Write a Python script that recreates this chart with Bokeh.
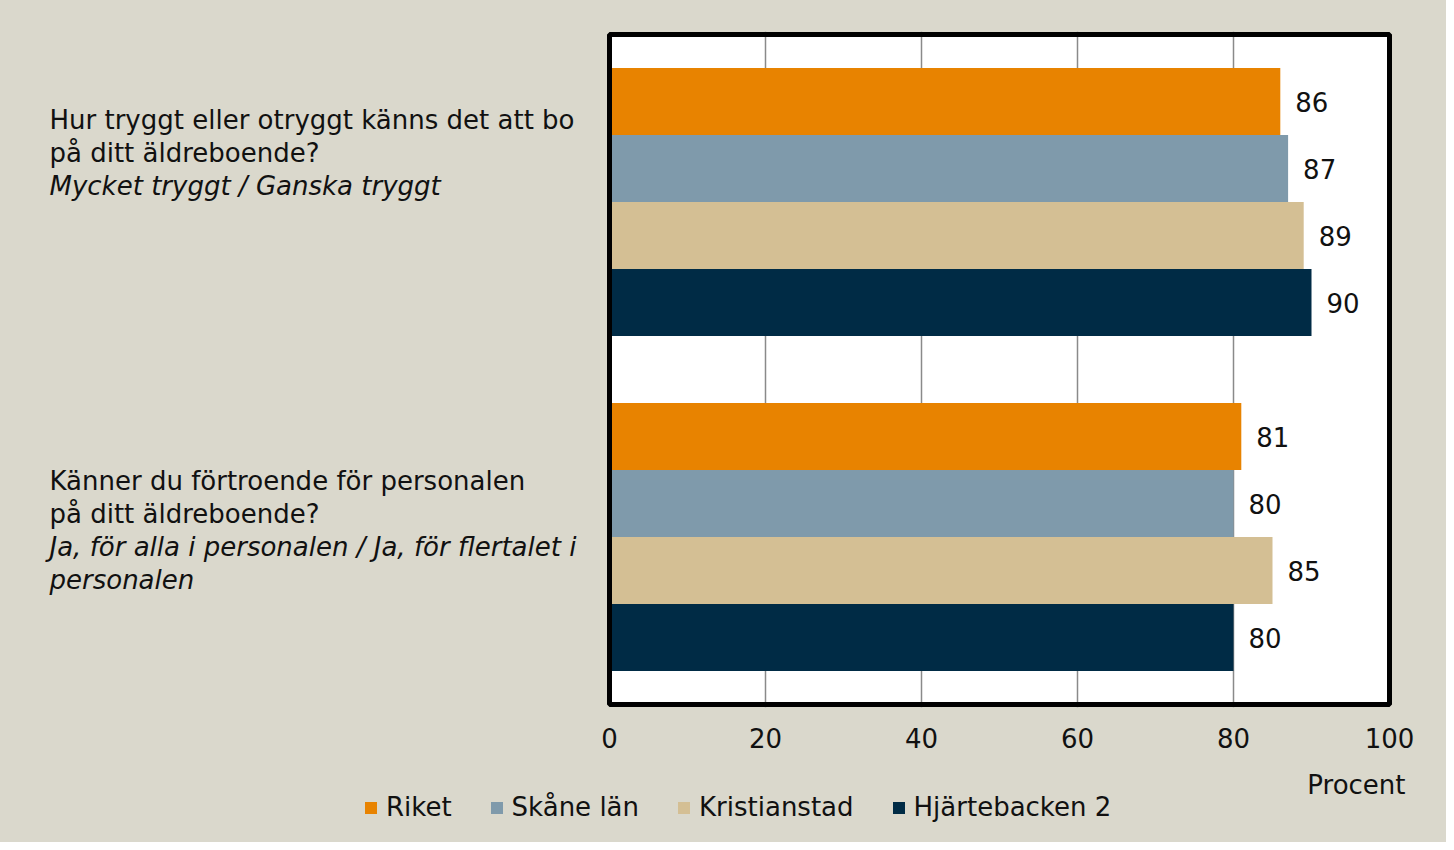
from bokeh.plotting import figure
from bokeh.models import Range1d, FixedTicker, Legend, LegendItem, ColumnDataSource
from bokeh.layouts import column
from bokeh.core.properties import value
from bokeh.embed import file_html
from bokeh.resources import INLINE

# ---- data ----
series = ["Riket", "Skåne län", "Kristianstad", "Hjärtebacken 2"]
riket = [86, 81]
skane = [87, 80]
kristianstad = [89, 85]
hjartebacken = [90, 80]
colors = ["#e88300", "#7f9aab", "#d4bf94", "#002b45"]

q1_lines = ["Hur tryggt eller otryggt känns det att bo", "på ditt äldreboende?"]
q1_italic = ["Mycket tryggt / Ganska tryggt"]
q2_lines = ["Känner du förtroende för personalen", "på ditt äldreboende?"]
q2_italic = ["Ja, för alla i personalen / Ja, för flertalet i", "personalen"]
x_ticks = [0, 20, 40, 60, 80, 100]
x_label = "Procent"

FONT = "DejaVu Sans"
FS = "26px"
BG = "#dad8cc"
TXT = "#111111"

W, H = 1446, 842
H1 = 760                          # main figure height; legend strip below
BOX_L, BOX_R = 609, 1389          # white plot box, figure pixels
BOX_T, BOX_B = 34, 704
PX = (BOX_R - BOX_L) / 100.0      # px per percent
ROW = (BOX_B - BOX_T) / 10.0      # px per bar row
EXT = 3                           # frame extends a bit beyond the box

n_rows = 5 * len(riket) - 1
y_top, y_bot = -1, n_rows
x0 = -BOX_L / PX
x1 = x0 + W / PX
fy_top = y_top - EXT / ROW
fy_bot = y_bot + EXT / ROW

p = figure(width=W, height=H1, output_backend="svg", toolbar_location=None,
           x_range=Range1d(x0, x1), y_range=Range1d(fy_bot, fy_top),
           y_axis_location=None, min_border_left=0, min_border_right=0,
           min_border_top=BOX_T - EXT, min_border_bottom=H1 - BOX_B - EXT)
p.background_fill_alpha = 0
p.border_fill_color = BG
p.outline_line_color = None

ax = p.xaxis[0]
ax.ticker = FixedTicker(ticks=x_ticks)
ax.axis_line_color = None
ax.major_tick_line_color = None
ax.minor_tick_line_color = None
ax.major_tick_out = 0
ax.major_tick_in = 0
ax.major_label_text_font = FONT
ax.major_label_text_font_size = FS
ax.major_label_text_color = TXT
ax.major_label_standoff = 20

p.xgrid.ticker = FixedTicker(ticks=x_ticks[1:-1])
p.xgrid.grid_line_color = "#8a8a8a"
p.xgrid.grid_line_width = 1.5
p.ygrid.grid_line_color = None

# white plot box under the grid
p.quad(left=x_ticks[0], right=x_ticks[-1], top=y_top, bottom=y_bot,
       fill_color="white", line_color=None, level="image")

all_vals = [riket, skane, kristianstad, hjartebacken]
for si, (name, vals, col) in enumerate(zip(series, all_vals, colors)):
    ys = [qi * 5 + si for qi in range(len(vals))]
    src = ColumnDataSource(dict(y=ys, right=vals, lab=[str(v) for v in vals]))
    p.hbar(y="y", right="right", left=0, height=1, source=src,
           fill_color=col, line_color=None)
    p.text(x="right", y="y", text="lab", source=src, x_offset=15,
           text_font=value(FONT), text_font_size=FS, text_color=TXT,
           text_baseline="middle", text_align="left")

# black box border on top
p.quad(left=x_ticks[0], right=x_ticks[-1], top=y_top, bottom=y_bot,
       fill_color=None, line_color="black", line_width=5)

# question labels (left side, inside the full-width frame)
def dx(px):
    return (px - BOX_L) / PX
def dy(py):
    return y_top + (py - BOX_T) / ROW

def add_lines(lines, italic, y0):
    texts = lines + italic
    styles = ["normal"] * len(lines) + ["italic"] * len(italic)
    ys = [dy(y0 + k * 33) for k in range(len(texts))]
    src = ColumnDataSource(dict(x=[dx(49)] * len(texts), y=ys, t=texts, s=styles))
    p.text(x="x", y="y", text="t", text_font_style="s", source=src,
           text_font=value(FONT), text_font_size=FS, text_color=TXT,
           text_baseline="middle", text_align="left")

add_lines(q1_lines, q1_italic, 119)
add_lines(q2_lines, q2_italic, 480)

# ---- bottom strip: "Procent" and legend ----
H2 = H - H1
q = figure(width=W, height=H2, output_backend="svg", toolbar_location=None,
           x_range=Range1d(x0, x1), y_range=Range1d(H2, 0),
           x_axis_location=None, y_axis_location=None,
           min_border_left=0, min_border_right=0, min_border_top=0, min_border_bottom=0)
q.background_fill_alpha = 0
q.border_fill_color = BG
q.outline_line_color = None
q.xgrid.grid_line_color = None
q.ygrid.grid_line_color = None

q.text(x=[dx(1405)], y=[784 - H1], text=[x_label], text_font=value(FONT),
       text_font_size=FS, text_color=TXT, text_baseline="middle", text_align="right")

# legend proxies: zero-height bars of each series (only their swatches are shown)
items = []
for name, vals, col in zip(series, all_vals, colors):
    proxy = ColumnDataSource(dict(y=[10 * H2] * len(vals), right=vals))
    r = q.hbar(y="y", right="right", left=0, height=0, source=proxy,
               fill_color=col, line_color=None)
    items.append(LegendItem(label=name, renderers=[r]))

legend = Legend(items=items, orientation="horizontal", location=(363, 20),
                glyph_width=15, glyph_height=15, label_standoff=8, spacing=37,
                padding=0, margin=0, border_line_color=None,
                background_fill_alpha=0, label_text_font=FONT,
                label_text_font_size=FS, label_text_color=TXT)
q.add_layout(legend, "center")

layout = column(p, q, spacing=0, styles={"background-color": BG})
open("out.html", "w").write(file_html(layout, INLINE))
